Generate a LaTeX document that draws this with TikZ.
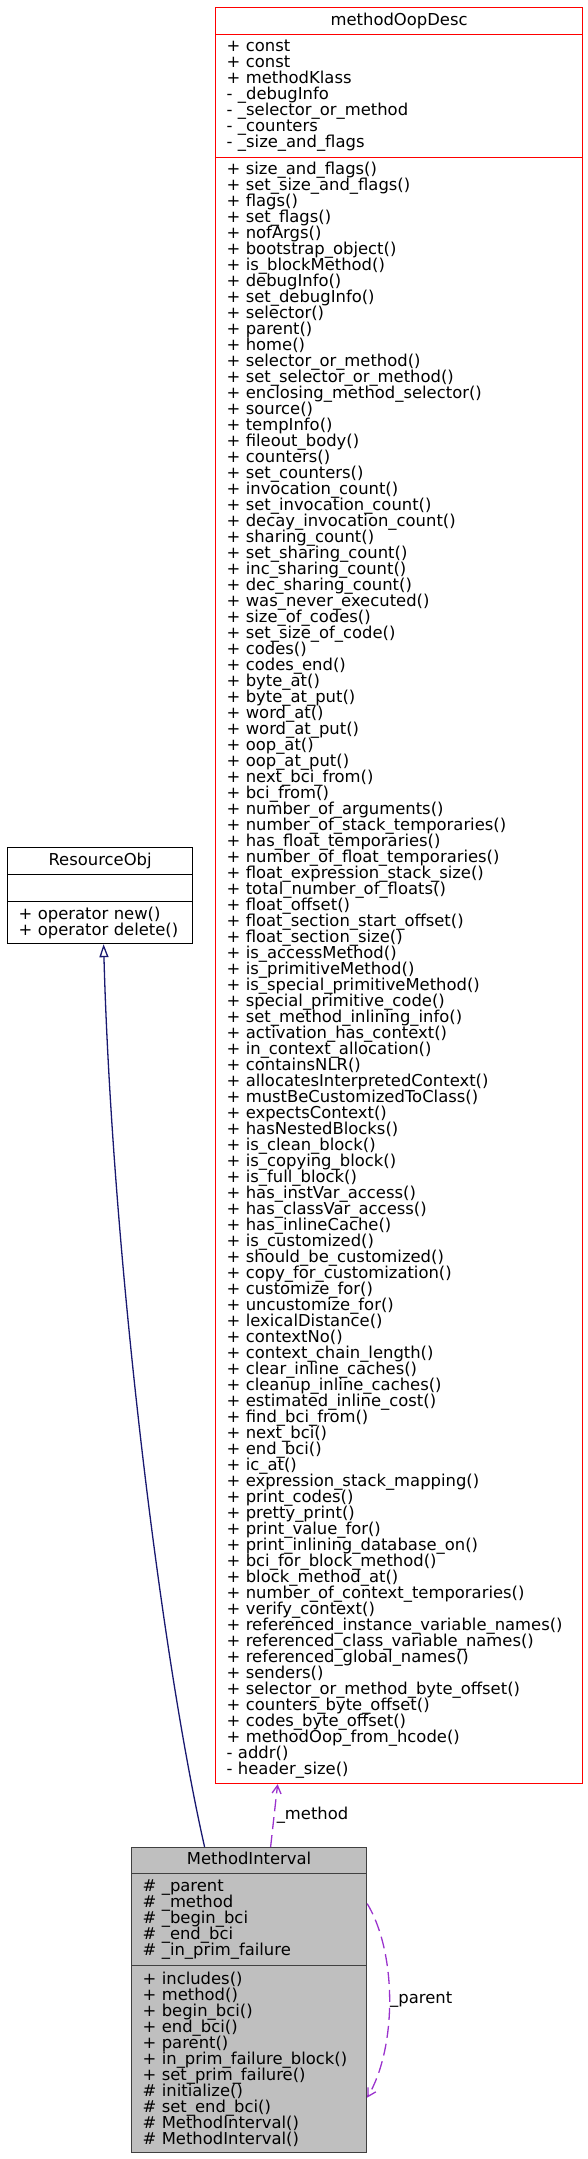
\documentclass[tikz,border=0pt]{standalone}
\usepackage{fontspec}
\setmainfont{DejaVu Sans}
\usepackage{tikz}
\definecolor{cr}{RGB}{255, 0, 0}
\definecolor{cb}{RGB}{25, 25, 112}
\definecolor{cp}{RGB}{154, 50, 205}
\definecolor{cg}{RGB}{191, 191, 191}
\definecolor{cd}{RGB}{64, 64, 64}
\newcommand{\umlfont}{\fontsize{16.4pt}{16pt}\selectfont\lineskiplimit=-20pt\relax}
\usetikzlibrary{arrows.meta}

\begin{document}
\begin{tikzpicture}[
every node/.style={font=\umlfont},
classtitle/.style={anchor=north west, inner sep=0pt, line width=1.2pt, text height=12.5pt, text depth=3.9pt},
classpart/.style={anchor=north west, inner xsep=11pt, inner ysep=0pt, line width=1.2pt, align=left},
inherit/.style={line width=1.3pt, color=cb, -{Triangle[open, length=13pt, width=9pt]}},
usage/.style={line width=1.3pt, color=cp, dash pattern=on 12pt off 6pt, -{Straight Barb[length=8pt, width=9pt]}}]
\useasboundingbox (0pt, 0pt) rectangle (588pt, -2159pt);
\node (mdtit) [classtitle, draw=cr, minimum width=367pt, minimum height=27pt] at (215pt, -7pt) {methodOopDesc};
\node (mdatt) [classpart, draw=cr, text width=345pt, minimum height=123pt] at (215pt, -34pt) {+~const\\+~const\\+~methodKlass\\-~\_debugInfo\\-~\_selector\_or\_method\\-~\_counters\\-~\_size\_and\_flags};
\node (mdmet) [classpart, draw=cr, text width=345pt, minimum height=1626pt] at (215pt, -157pt) {+~size\_and\_flags()\\+~set\_size\_and\_flags()\\+~flags()\\+~set\_flags()\\+~nofArgs()\\+~bootstrap\_object()\\+~is\_blockMethod()\\+~debugInfo()\\+~set\_debugInfo()\\+~selector()\\+~parent()\\+~home()\\+~selector\_or\_method()\\+~set\_selector\_or\_method()\\+~enclosing\_method\_selector()\\+~source()\\+~tempInfo()\\+~fileout\_body()\\+~counters()\\+~set\_counters()\\+~invocation\_count()\\+~set\_invocation\_count()\\+~decay\_invocation\_count()\\+~sharing\_count()\\+~set\_sharing\_count()\\+~inc\_sharing\_count()\\+~dec\_sharing\_count()\\+~was\_never\_executed()\\+~size\_of\_codes()\\+~set\_size\_of\_code()\\+~codes()\\+~codes\_end()\\+~byte\_at()\\+~byte\_at\_put()\\+~word\_at()\\+~word\_at\_put()\\+~oop\_at()\\+~oop\_at\_put()\\+~next\_bci\_from()\\+~bci\_from()\\+~number\_of\_arguments()\\+~number\_of\_stack\_temporaries()\\+~has\_float\_temporaries()\\+~number\_of\_float\_temporaries()\\+~float\_expression\_stack\_size()\\+~total\_number\_of\_floats()\\+~float\_offset()\\+~float\_section\_start\_offset()\\+~float\_section\_size()\\+~is\_accessMethod()\\+~is\_primitiveMethod()\\+~is\_special\_primitiveMethod()\\+~special\_primitive\_code()\\+~set\_method\_inlining\_info()\\+~activation\_has\_context()\\+~in\_context\_allocation()\\+~containsNLR()\\+~allocatesInterpretedContext()\\+~mustBeCustomizedToClass()\\+~expectsContext()\\+~hasNestedBlocks()\\+~is\_clean\_block()\\+~is\_copying\_block()\\+~is\_full\_block()\\+~has\_instVar\_access()\\+~has\_classVar\_access()\\+~has\_inlineCache()\\+~is\_customized()\\+~should\_be\_customized()\\+~copy\_for\_customization()\\+~customize\_for()\\+~uncustomize\_for()\\+~lexicalDistance()\\+~contextNo()\\+~context\_chain\_length()\\+~clear\_inline\_caches()\\+~cleanup\_inline\_caches()\\+~estimated\_inline\_cost()\\+~find\_bci\_from()\\+~next\_bci()\\+~end\_bci()\\+~ic\_at()\\+~expression\_stack\_mapping()\\+~print\_codes()\\+~pretty\_print()\\+~print\_value\_for()\\+~print\_inlining\_database\_on()\\+~bci\_for\_block\_method()\\+~block\_method\_at()\\+~number\_of\_context\_temporaries()\\+~verify\_context()\\+~referenced\_instance\_variable\_names()\\+~referenced\_class\_variable\_names()\\+~referenced\_global\_names()\\+~senders()\\+~selector\_or\_method\_byte\_offset()\\+~counters\_byte\_offset()\\+~codes\_byte\_offset()\\+~methodOop\_from\_hcode()\\-~addr()\\-~header\_size()};
\node (rotit) [classtitle, draw=black, minimum width=185pt, minimum height=27pt] at (7pt, -847pt) {ResourceObj};
\node (roatt) [classpart, draw=black, text width=163pt, minimum height=27pt] at (7pt, -874pt) {};
\node (romet) [classpart, draw=black, text width=163pt, minimum height=42pt] at (7pt, -901pt) {+~operator new()\\+~operator delete()};
\node (mitit) [classtitle, draw=cd, fill=cg, minimum width=235pt, minimum height=26pt] at (131pt, -1847pt) {MethodInterval};
\node (miatt) [classpart, draw=cd, fill=cg, text width=213pt, minimum height=92pt] at (131pt, -1873pt) {\#~\_parent\\\#~\_method\\\#~\_begin\_bci\\\#~\_end\_bci\\\#~\_in\_prim\_failure};
\node (mimet) [classpart, draw=cd, fill=cg, text width=213pt, minimum height=187pt] at (131pt, -1965pt) {+~includes()\\+~method()\\+~begin\_bci()\\+~end\_bci()\\+~parent()\\+~in\_prim\_failure\_block()\\+~set\_prim\_failure()\\\#~initialize()\\\#~set\_end\_bci()\\\#~MethodInterval()\\\#~MethodInterval()};
\draw [inherit] ([xshift=-44.5pt]mitit.north) .. controls (160pt, -1650pt) and (112pt, -1250pt) .. ([xshift=3.5pt]romet.south);
\draw [usage] ([xshift=21.5pt]mitit.north) -- node [right, pos=0.5, text=black, inner sep=2pt] {\_method} ([xshift=-121.5pt]mdmet.south);
\draw [usage] ([yshift=16pt]miatt.east) .. controls (397pt, -1953pt) and (397pt, -2047pt) .. node [right, pos=0.5, text=black, inner sep=0pt] {\_parent} ([yshift=-38.5pt]mimet.east);
\end{tikzpicture}
\end{document}
